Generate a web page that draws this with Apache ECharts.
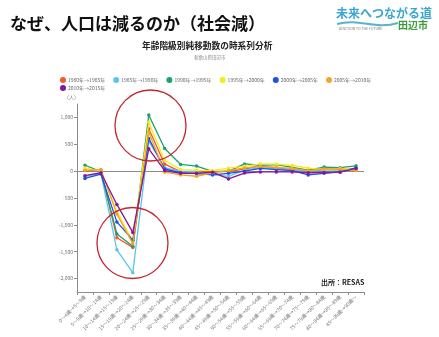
<!DOCTYPE html>
<html lang="ja">
<head>
<meta charset="utf-8">
<title>なぜ、人口は減るのか（社会減）</title>
<script src="https://cdn.jsdelivr.net/npm/echarts@6/dist/echarts.min.js"></script>
<style>
  html, body { margin: 0; padding: 0; background: #fff; }
  #chart { width: 439px; height: 337px; }
</style>
</head>
<body>
<div id="chart"></div>
<script>
// 年齢階級（5歳階級の移動）
const categories = [
  '0～4歳→5～9歳', '5～9歳→10～14歳', '10～14歳→15～19歳', '15～19歳→20～24歳',
  '20～24歳→25～29歳', '25～29歳→30～34歳', '30～34歳→35～39歳', '35～39歳→40～44歳',
  '40～44歳→45～49歳', '45～49歳→50～54歳', '50～54歳→55～59歳', '55～59歳→60～64歳',
  '60～64歳→65～69歳', '65～69歳→70～74歳', '70～74歳→75～79歳', '75～79歳→80～84歳',
  '80～84歳→85～89歳', '85～89歳→90歳～'
];

// 期間ごとの純移動数（人）
const periodNames = [
  '1980年→1985年', '1985年→1990年', '1990年→1995年', '1995年→2000年',
  '2000年→2005年', '2005年→2010年', '2010年→2015年'
];
const net1980 = [10, 20, -1240, -1420, 790, 130, -10, -20, -10, -10, 40, 100, 60, 30, 10, 40, 30, 40];
const net1985 = [-100, -40, -1465, -1890, 560, 60, 0, -10, -60, -100, 20, 70, 40, 20, 0, 20, 20, 50];
const net1990 = [110, -10, -1170, -1400, 1045, 420, 125, 95, -5, -5, 135, 110, 120, 70, 20, 75, 65, 100];
const net1995 = [60, 0, -750, -1310, 910, 200, 30, 20, 10, 55, 90, 135, 130, 105, 55, 30, 50, 30];
const net2000 = [-135, -55, -945, -1285, 610, 40, -30, -45, -70, -40, 0, 50, 30, 10, -70, -40, -15, 60];
const net2005 = [15, 30, -800, -1350, 730, -20, -70, -95, -30, 10, 60, 90, 70, 50, 10, 40, 40, 10];
const net2010 = [-85, -30, -620, -1140, 415, 10, -40, -40, -20, -145, -35, -15, -15, -15, -30, -25, -20, 50];

const seriesValues = [net1980, net1985, net1990, net1995, net2000, net2005, net2010];
const seriesColors = ['#f25a26', '#5cc3ee', '#1ea070', '#f7ea1a', '#1f4fe6', '#f4a521', '#86169c'];

// 縦軸の目盛
const yTicks = [-2000, -1500, -1000, -500, 0, 500, 1000];
const yMin = -2250;
const yMax = 1250;

const FONT = '"Noto Sans CJK JP", "Noto Sans", sans-serif';

const chart = echarts.init(document.getElementById('chart'), null, { renderer: 'canvas' });

const series = periodNames.map((name, i) => ({
  name: name,
  type: 'line',
  data: seriesValues[i],
  symbol: 'circle',
  symbolSize: 3.5,
  showSymbol: true,
  lineStyle: { width: 1.3, color: seriesColors[i] },
  itemStyle: { color: seriesColors[i] },
  z: 3 + i,
  animation: false
}));

// 0 の基準線
series[0].markLine = {
  silent: true,
  symbol: 'none',
  label: { show: false },
  lineStyle: { color: '#8c8c8c', width: 1, type: 'solid' },
  data: [{ yAxis: 0 }],
  z: 1
};

const legendCommon = {
  icon: 'circle',
  itemWidth: 6,
  itemHeight: 6,
  itemGap: 8,
  selectedMode: false,
  orient: 'horizontal',
  textStyle: { fontSize: 5, color: '#666', fontFamily: FONT, padding: [0, 0, 0, -3] },
  padding: 0
};

chart.setOption({
  backgroundColor: '#fff',
  animation: false,
  textStyle: { fontFamily: FONT },
  color: seriesColors,
  legend: [
    Object.assign({}, legendCommon, { data: periodNames.slice(0, 6), left: 60, top: 77 }),
    Object.assign({}, legendCommon, { data: periodNames.slice(6), left: 60, top: 85 })
  ],
  grid: { left: 77, right: 75, top: 104, bottom: 45, containLabel: false },
  xAxis: {
    type: 'category',
    data: categories,
    boundaryGap: true,
    axisLine: { onZero: false, lineStyle: { color: '#8c8c8c', width: 1 } },
    axisTick: { show: true, length: 3, lineStyle: { color: '#8c8c8c' } },
    axisLabel: {
      interval: 0,
      rotate: 45,
      fontSize: 5,
      color: '#777',
      margin: 4,
      fontFamily: FONT
    },
    splitLine: { show: false }
  },
  yAxis: {
    type: 'value',
    min: yMin,
    max: yMax,
    axisLine: { show: true, lineStyle: { color: '#8c8c8c', width: 1 } },
    axisTick: { show: true, length: 3, customValues: yTicks, lineStyle: { color: '#8c8c8c' } },
    axisLabel: {
      customValues: yTicks,
      fontSize: 5,
      color: '#777',
      margin: 4,
      fontFamily: FONT,
      formatter: v => Number(v).toLocaleString('en-US')
    },
    splitLine: { show: false }
  },
  graphic: [
    // 見出し
    {
      type: 'text', left: 10, top: 15, z: 10,
      style: { text: 'なぜ、人口は減るのか（社会減）', fontSize: 17, fontWeight: 'bold', fill: '#111', fontFamily: FONT }
    },
    {
      type: 'text', left: 142, top: 41, z: 10,
      style: { text: '年齢階級別純移動数の時系列分析', fontSize: 8.7, fontWeight: 'bold', fill: '#222', fontFamily: FONT }
    },
    {
      type: 'text', left: 194, top: 55, z: 10,
      style: { text: '和歌山県田辺市', fontSize: 4.5, fill: '#888', fontFamily: FONT }
    },
    {
      type: 'text', left: 64, top: 95, z: 10,
      style: { text: '（人）', fontSize: 5, fill: '#777', fontFamily: FONT }
    },
    {
      type: 'text', left: 321, top: 279, z: 10,
      style: { text: '出所：RESAS', fontSize: 7, fontWeight: 'bold', fill: '#222', fontFamily: FONT }
    },
    // 注目箇所の丸囲み
    {
      type: 'circle', z: 20, silent: true,
      shape: { cx: 150.5, cy: 125.5, r: 35.5 },
      style: { fill: 'none', stroke: '#c4262e', lineWidth: 1.3 }
    },
    {
      type: 'circle', z: 20, silent: true,
      shape: { cx: 132.5, cy: 243, r: 35.5 },
      style: { fill: 'none', stroke: '#c4262e', lineWidth: 1.3 }
    },
    // ロゴ
    {
      type: 'text', left: 336, top: 7, z: 10,
      style: { text: '未来へつながる道', fontSize: 12, fontWeight: 'bold', fill: '#3aa7cf', fontFamily: FONT }
    },
    {
      type: 'bezierCurve', z: 10, silent: true,
      shape: { x1: 337, y1: 24, x2: 398, y2: 23, cpx1: 360, cpy1: 18, cpx2: 375, cpy2: 30 },
      style: { stroke: '#5ab4c9', lineWidth: 2, fill: 'none' }
    },
    {
      type: 'text', left: 398, top: 20, z: 10,
      style: { text: '田辺市', fontSize: 10, fontWeight: 'bold', fill: '#3c9c3a', fontFamily: FONT }
    },
    {
      type: 'text', left: 338, top: 27, z: 10,
      style: { text: 'JUNCTION TO THE FUTURE', fontSize: 3.5, fill: '#777', fontFamily: FONT }
    }
  ],
  series: series
});
</script>
</body>
</html>
